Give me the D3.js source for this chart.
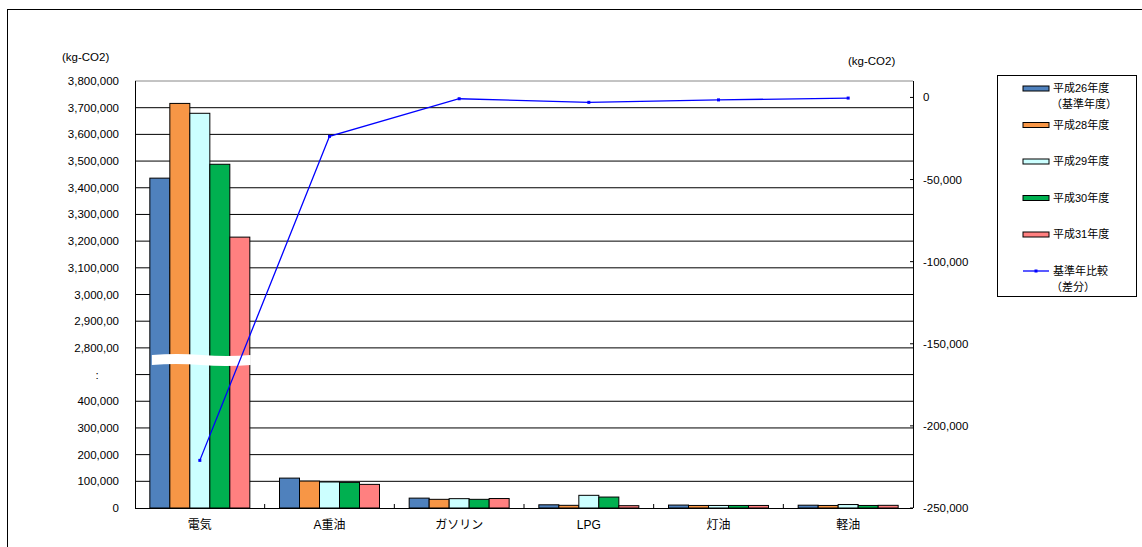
<!DOCTYPE html>
<html><head><meta charset="utf-8">
<script src="https://cdn.jsdelivr.net/npm/d3@7"></script>
<style>
body{margin:0;background:#fff;}
svg{display:block;font-family:"Liberation Sans","Noto Sans CJK JP",sans-serif;}
</style></head>
<body><svg id="c" width="1142" height="547"></svg>
<script>
const categories = ["電気","A重油","ガソリン","LPG","灯油","軽油"];
const seriesNames = ["平成26年度","平成28年度","平成29年度","平成30年度","平成31年度"];
const legendSub = ["（基準年度）","","","",""];
const h26 = [3436000,112000,37000,12000,11000,10500];
const h28 = [3716000,101000,32500,10000,9500,9500];
const h29 = [3679000,97500,35000,47500,9500,13000];
const h30 = [3488000,96000,32500,41000,9500,9500];
const h31 = [3215000,88500,35500,8700,9500,10000];
const diffName = "基準年比較";
const diffSub = "（差分）";
const diff = [-221000,-23700,-800,-3000,-1500,-400];
const leftTickValues = [0,100000,200000,300000,400000,2700000,2800000,2900000,3000000,3100000,3200000,3300000,3400000,3500000,3600000,3700000,3800000];
const leftTickLabels = ["0","100,000","200,000","300,000","400,000",":","2,800,00","2,900,00","3,000,00","3,100,000","3,200,000","3,300,000","3,400,000","3,500,000","3,600,000","3,700,000","3,800,000"];
const rightTickValues = [0,-50000,-100000,-150000,-200000,-250000];
const rightTickLabels = ["0","-50,000","-100,000","-150,000","-200,000","-250,000"];
const unitLabel = "(kg-CO2)";

const colors = ["#4F81BD","#F79646","#CCFFFF","#00B050","#FF8080"];
const values = [h26,h28,h29,h30,h31];

const svg = d3.select("#c");
const L=135, R=913, T=81, B=508;
const step=(B-T)/16;

// frame
svg.append("line").attr("x1",7).attr("x2",1142).attr("y1",9.5).attr("y2",9.5).attr("stroke","#000");
svg.append("line").attr("x1",7.5).attr("x2",7.5).attr("y1",9).attr("y2",547).attr("stroke","#000");

const x0 = d3.scaleBand().domain(categories).range([L,R]).padding(0);
const x1 = d3.scaleBand().domain(seriesNames).range([0,x0.bandwidth()]).paddingInner(0).paddingOuter(0.742);
const yL = d3.scaleLinear().domain([0,400000,2700000,3800000]).range([B,B-4*step,B-5*step,T]);
const yR = d3.scaleLinear().domain([-250000,10000]).range([B,T]);

// gridlines
const g = svg.append("g");
leftTickValues.slice(1).forEach((v,i)=>{
  const yy=yL(v);
  g.append("line").attr("x1",L).attr("x2",R).attr("y1",yy).attr("y2",yy)
   .attr("stroke", v===3800000?"#888":"#000").attr("stroke-width",1);
});

// bars
const bars = svg.append("g");
seriesNames.forEach((s,si)=>{
  bars.selectAll(null).data(categories).enter().append("rect")
    .attr("x",c=>x0(c)+x1(s))
    .attr("width",x1.bandwidth())
    .attr("y",(c,ci)=>yL(values[si][ci]))
    .attr("height",(c,ci)=>B-yL(values[si][ci]))
    .attr("fill",colors[si]).attr("stroke","#000").attr("stroke-width",1);
});

// break mark
const bx0 = x0(categories[0])+x1(seriesNames[0])+2, bx1 = x0(categories[0])+x1(seriesNames[4])+x1.bandwidth()+1;
const by = 360;
svg.append("path")
 .attr("d",`M${bx0},${by-5} Q${bx0+25},${by-7} ${bx0+50},${by-5} T${bx1},${by-5} L${bx1},${by+5} Q${bx1-25},${by+7} ${bx1-50},${by+5} T${bx0},${by+5} Z`)
 .attr("fill","#fff");

// axes lines
svg.append("line").attr("x1",L+0.5).attr("x2",L+0.5).attr("y1",T).attr("y2",B).attr("stroke","#000");
svg.append("line").attr("x1",R+0.5).attr("x2",R+0.5).attr("y1",T).attr("y2",B).attr("stroke","#000");
svg.append("line").attr("x1",L).attr("x2",R).attr("y1",B+0.5).attr("y2",B+0.5).attr("stroke","#000");

// category boundary ticks
categories.forEach((c,i)=>{
  if(i===0) return;
  svg.append("line").attr("x1",x0(c)).attr("x2",x0(c)).attr("y1",B).attr("y2",B-4).attr("stroke","#000");
});

// right axis ticks
rightTickValues.forEach((v,i)=>{
  svg.append("line").attr("x1",R-3).attr("x2",R).attr("y1",yR(v)).attr("y2",yR(v)).attr("stroke","#000");
  svg.append("text").attr("x",R+10).attr("y",yR(v)).attr("dy","0.35em")
   .attr("font-size","11.5px").attr("fill","#000").text(rightTickLabels[i]);
});

// left labels
leftTickValues.forEach((v,i)=>{
  svg.append("text").attr("x",v===2700000?97:119).attr("y",yL(v)).attr("dy","0.35em")
   .attr("text-anchor",v===2700000?"middle":"end")
   .attr("font-size","11.5px").attr("fill","#000").text(leftTickLabels[i]);
});

// category labels
categories.forEach(c=>{
  svg.append("text").attr("x",x0(c)+x0.bandwidth()/2).attr("y",525).attr("dy","0.35em")
   .attr("text-anchor","middle").attr("font-size","12px").attr("fill","#000").text(c);
});

// units
svg.append("text").attr("x",62).attr("y",57).attr("dy","0.35em").attr("font-size","11.5px").text(unitLabel);
svg.append("text").attr("x",848).attr("y",61).attr("dy","0.35em").attr("font-size","11.5px").text(unitLabel);

// diff line
const line = d3.line().x((d,i)=>x0(categories[i])+x0.bandwidth()/2).y(d=>yR(d));
svg.append("path").datum(diff).attr("d",line).attr("fill","none").attr("stroke","#0000FF").attr("stroke-width",1.3);
svg.selectAll(null).data(diff).enter().append("rect")
 .attr("x",(d,i)=>x0(categories[i])+x0.bandwidth()/2-1.5).attr("y",d=>yR(d)-1.5)
 .attr("width",3).attr("height",3).attr("fill","#0000FF");

// legend
const lg = svg.append("g");
lg.append("rect").attr("x",997.5).attr("y",75.5).attr("width",139).attr("height",221).attr("fill","#fff").attr("stroke","#000");
seriesNames.forEach((s,i)=>{
  const cy = 88.5 + i*36.5;
  lg.append("rect").attr("x",1023).attr("y",cy-2.5).attr("width",26).attr("height",5)
    .attr("fill",colors[i]).attr("stroke","#000").attr("stroke-width",1);
  lg.append("text").attr("x",1053).attr("y",cy).attr("dy","0.35em").attr("font-size","11px").text(s);
  if(legendSub[i]) lg.append("text").attr("x",1051).attr("y",cy+16).attr("dy","0.35em").attr("font-size","11px").text(legendSub[i]);
});
{
  const cy = 88.5 + 5*36.5;
  lg.append("line").attr("x1",1023).attr("x2",1049).attr("y1",cy).attr("y2",cy).attr("stroke","#0000FF").attr("stroke-width",1.3);
  lg.append("rect").attr("x",1034.5).attr("y",cy-1.5).attr("width",3).attr("height",3).attr("fill","#0000FF");
  lg.append("text").attr("x",1053).attr("y",cy).attr("dy","0.35em").attr("font-size","11px").text(diffName);
  lg.append("text").attr("x",1051).attr("y",cy+16).attr("dy","0.35em").attr("font-size","11px").text(diffSub);
}
</script></body></html>
